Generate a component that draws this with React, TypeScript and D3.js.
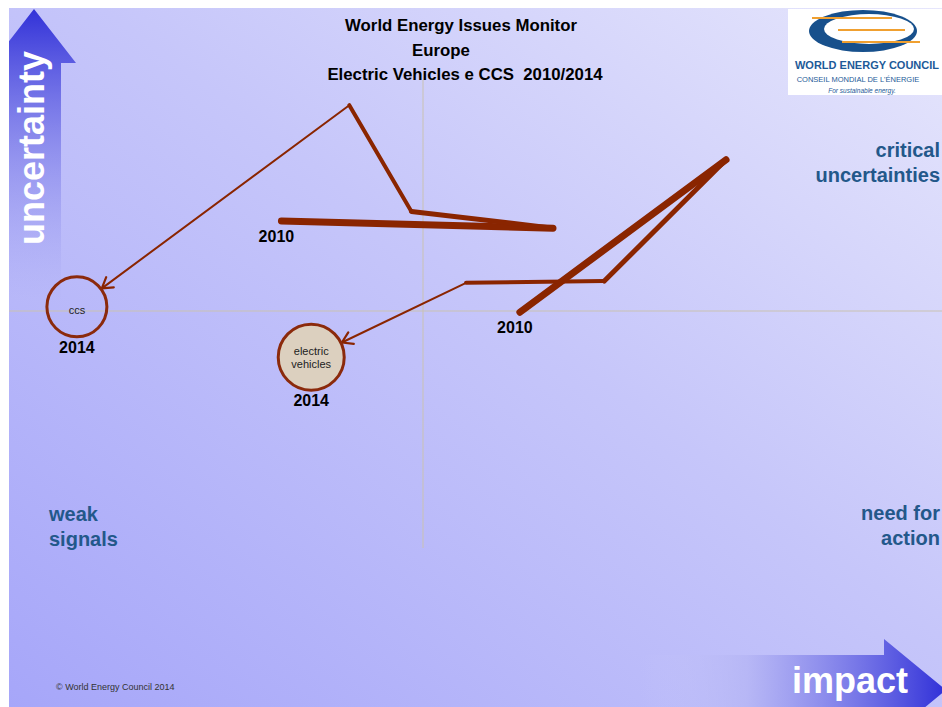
import React, { useEffect, useRef } from "react";
import * as d3 from "d3";

// trail of each issue, one point per survey year (2010 -> 2014)
const years = ["2010", "2011", "2012", "2013", "2014"];
const issueNames = ["ccs", "electric vehicles"];
const ccsImpact = [3.29, 6.57, 4.86, 4.11, 0.82];
const ccsUncertainty = [6.5, 6.38, 6.66, 8.43, 5.07];
const evImpact = [6.17, 8.66, 7.19, 5.52, 3.65];
const evUncertainty = [4.98, 7.52, 5.5, 5.47, 4.23];
const titleLines = ["World Energy Issues Monitor", "Europe", "Electric Vehicles e CCS  2010/2014"];

const WIDTH = 942;
const HEIGHT = 707;
const LINE_COLOUR = "#8a2500";
const LABEL_BLUE = "#23588a";
const FONT = "'Liberation Sans', Arial, sans-serif";
const SEGMENT_WIDTHS = [7, 5, 4, 2];

const DegToRad = (angle) => angle * (Math.PI / 180);

const App = () => {
  const svgRef = useRef(null);

  useEffect(() => {
    const svg = d3.select(svgRef.current);
    svg.selectAll("*").remove();

    const x = d3.scaleLinear().domain([0, 10]).range([9, 837]);
    const y = d3.scaleLinear().domain([0, 10]).range([611, 11]);

    const defs = svg.append("defs");
    const bg = defs.append("linearGradient").attr("id", "bg")
      .attr("x1", 0).attr("y1", 1).attr("x2", 1).attr("y2", 0);
    bg.append("stop").attr("offset", 0).attr("stop-color", "#a6a6f9");
    bg.append("stop").attr("offset", 0.55).attr("stop-color", "#c6c6fa");
    bg.append("stop").attr("offset", 1).attr("stop-color", "#e6e6fc");

    const up = defs.append("linearGradient").attr("id", "upArrow")
      .attr("gradientUnits", "userSpaceOnUse")
      .attr("x1", 0).attr("y1", 10).attr("x2", 0).attr("y2", 300);
    up.append("stop").attr("offset", 0).attr("stop-color", "#3232d8");
    up.append("stop").attr("offset", 1).attr("stop-color", "#b8b8f6").attr("stop-opacity", 0.2);

    const right = defs.append("linearGradient").attr("id", "rightArrow")
      .attr("gradientUnits", "userSpaceOnUse")
      .attr("x1", 640).attr("y1", 0).attr("x2", 946).attr("y2", 0);
    right.append("stop").attr("offset", 0).attr("stop-color", "#c8c8fa").attr("stop-opacity", 0);
    right.append("stop").attr("offset", 0.35).attr("stop-color", "#b4b4f4").attr("stop-opacity", 0.7);
    right.append("stop").attr("offset", 1).attr("stop-color", "#3030d8");

    defs.append("clipPath").attr("id", "panel")
      .append("rect").attr("x", 9).attr("y", 8).attr("width", WIDTH - 9).attr("height", HEIGHT - 8);

    const g = svg.append("g").attr("clip-path", "url(#panel)");
    g.append("rect").attr("x", 9).attr("y", 8).attr("width", WIDTH - 9).attr("height", HEIGHT - 8)
      .attr("fill", "url(#bg)");

    // axes arrows
    g.append("path")
      .attr("d", "M34,9 L76,63 L61,63 L61,300 L7,300 L7,63 L-8,63 Z")
      .attr("fill", "url(#upArrow)");
    g.append("text")
      .attr("transform", `translate(44,148) rotate(-90)`)
      .attr("text-anchor", "middle")
      .attr("font-family", FONT).attr("font-weight", "bold").attr("font-size", 36)
      .attr("fill", "white")
      .text("uncertainty");

    g.append("path")
      .attr("d", "M640,655 L884,655 L884,639 L946,690 L884,741 L884,725 L640,725 Z")
      .attr("fill", "url(#rightArrow)");
    g.append("text")
      .attr("x", 850).attr("y", 693)
      .attr("text-anchor", "middle")
      .attr("font-family", FONT).attr("font-weight", "bold").attr("font-size", 36)
      .attr("fill", "white")
      .text("impact");

    // quadrant cross
    g.append("line")
      .attr("x1", x(5)).attr("x2", x(5)).attr("y1", 80).attr("y2", 548)
      .attr("stroke", "#c9c2b2").attr("stroke-width", 1);
    g.append("line")
      .attr("x1", 9).attr("x2", WIDTH).attr("y1", y(5)).attr("y2", y(5))
      .attr("stroke", "#c9c2b2").attr("stroke-width", 1);

    // title
    const titleX = [461, 441, 465];
    const titleY = [31, 56, 80];
    titleLines.forEach((t, i) => {
      g.append("text")
        .attr("x", titleX[i]).attr("y", titleY[i])
        .attr("text-anchor", "middle")
        .attr("font-family", FONT).attr("font-weight", "bold").attr("font-size", 16.8)
        .attr("fill", "#000")
        .style("white-space", "pre")
        .text(t);
    });

    // quadrant labels
    const quadLabel = (lines, px, py, anchor) => {
      lines.forEach((l, i) => {
        g.append("text")
          .attr("x", px).attr("y", py + i * 25)
          .attr("text-anchor", anchor)
          .attr("font-family", FONT).attr("font-weight", "bold").attr("font-size", 20)
          .attr("fill", LABEL_BLUE)
          .text(l);
      });
    };
    quadLabel(["critical", "uncertainties"], 940, 157, "end");
    quadLabel(["weak", "signals"], 49, 521, "start");
    quadLabel(["need for", "action"], 940, 520, "end");

    // logo
    const logo = g.append("g");
    logo.append("rect").attr("x", 788).attr("y", 9).attr("width", 160).attr("height", 86).attr("fill", "white");
    logo.append("ellipse").attr("cx", 863).attr("cy", 31).attr("rx", 54).attr("ry", 21).attr("fill", "#17508c");
    logo.append("ellipse").attr("cx", 869).attr("cy", 29).attr("rx", 45).attr("ry", 15).attr("fill", "white");
    [[812, 892, 18], [838, 905, 30], [842, 920, 42]].forEach(([a, b, ly]) => {
      logo.append("line").attr("x1", a).attr("x2", b).attr("y1", ly).attr("y2", ly)
        .attr("stroke", "#f0a030").attr("stroke-width", 2);
    });
    logo.append("text").attr("x", 867).attr("y", 69).attr("text-anchor", "middle")
      .attr("font-family", FONT).attr("font-size", 11).attr("font-weight", "bold").attr("fill", "#1d5a98")
      .text("WORLD ENERGY COUNCIL");
    logo.append("text").attr("x", 858).attr("y", 82).attr("text-anchor", "middle")
      .attr("font-family", FONT).attr("font-size", 7.5).attr("fill", "#1d5a98")
      .text("CONSEIL MONDIAL DE L'ÉNERGIE");
    logo.append("text").attr("x", 862).attr("y", 93).attr("text-anchor", "middle")
      .attr("font-family", FONT).attr("font-size", 6.5).attr("font-style", "italic").attr("fill", "#1d5a98")
      .text("For sustainable energy.");

    // issue trails
    const issues = [
      { name: issueNames[0], impact: ccsImpact, unc: ccsUncertainty, r: 30, fill: "none", lines: ["ccs"] },
      { name: issueNames[1], impact: evImpact, unc: evUncertainty, r: 33, fill: "#dcd0bf", lines: ["electric", "vehicles"] },
    ];

    issues.forEach((issue) => {
      const pts = issue.impact.map((v, i) => [x(v), y(issue.unc[i])]);
      const last = pts.length - 1;
      const [cx, cy] = pts[last];

      for (let i = 0; i < last; i++) {
        let [x1, y1] = pts[i];
        let [x2, y2] = pts[i + 1];
        if (i + 1 === last) {
          // stop the arrow at the edge of the bubble
          const dx = x2 - x1, dy = y2 - y1;
          const len = Math.sqrt(dx * dx + dy * dy);
          x2 = x2 - (dx / len) * (issue.r + 1);
          y2 = y2 - (dy / len) * (issue.r + 1);
          const ang = Math.atan2(dy, dx);
          const head = 12;
          const spread = DegToRad(32);
          const a1 = [x2 - head * Math.cos(ang - spread), y2 - head * Math.sin(ang - spread)];
          const a2 = [x2 - head * Math.cos(ang + spread), y2 - head * Math.sin(ang + spread)];
          g.append("path")
            .attr("d", `M${a1[0]},${a1[1]} L${x2},${y2} L${a2[0]},${a2[1]}`)
            .attr("fill", "none")
            .attr("stroke", LINE_COLOUR)
            .attr("stroke-width", 2.2)
            .attr("stroke-linecap", "round")
            .attr("stroke-linejoin", "round");
        }
        g.append("line")
          .attr("x1", x1).attr("y1", y1).attr("x2", x2).attr("y2", y2)
          .attr("stroke", LINE_COLOUR)
          .attr("stroke-width", SEGMENT_WIDTHS[i])
          .attr("stroke-linecap", "round");
      }

      g.append("circle")
        .attr("cx", cx).attr("cy", cy).attr("r", issue.r)
        .attr("fill", issue.fill)
        .attr("stroke", "#8b2a0c")
        .attr("stroke-width", 3);

      issue.lines.forEach((l, i) => {
        g.append("text")
          .attr("x", cx).attr("y", cy + (issue.lines.length === 1 ? 7 : 4) - (issue.lines.length - 1) * 6.5 + i * 13)
          .attr("text-anchor", "middle")
          .attr("font-family", FONT).attr("font-size", 11)
          .attr("fill", "#222")
          .text(l);
      });

      // year labels
      g.append("text")
        .attr("x", pts[0][0] - 5).attr("y", pts[0][1] + 21)
        .attr("text-anchor", "middle")
        .attr("font-family", FONT).attr("font-weight", "bold").attr("font-size", 16)
        .attr("fill", "#000")
        .text(years[0]);
      g.append("text")
        .attr("x", cx).attr("y", cy + issue.r + 16)
        .attr("text-anchor", "middle")
        .attr("font-family", FONT).attr("font-weight", "bold").attr("font-size", 16)
        .attr("fill", "#000")
        .text(years[last]);
    });

    // footer
    g.append("text")
      .attr("x", 56).attr("y", 690)
      .attr("font-family", FONT).attr("font-size", 9)
      .attr("fill", "#333")
      .text("© World Energy Council 2014");
  }, []);

  return (
    <svg
      ref={svgRef}
      width={WIDTH}
      height={HEIGHT}
      style={{ position: "absolute", left: 0, top: 0, background: "white" }}
    />
  );
};

export default App;
